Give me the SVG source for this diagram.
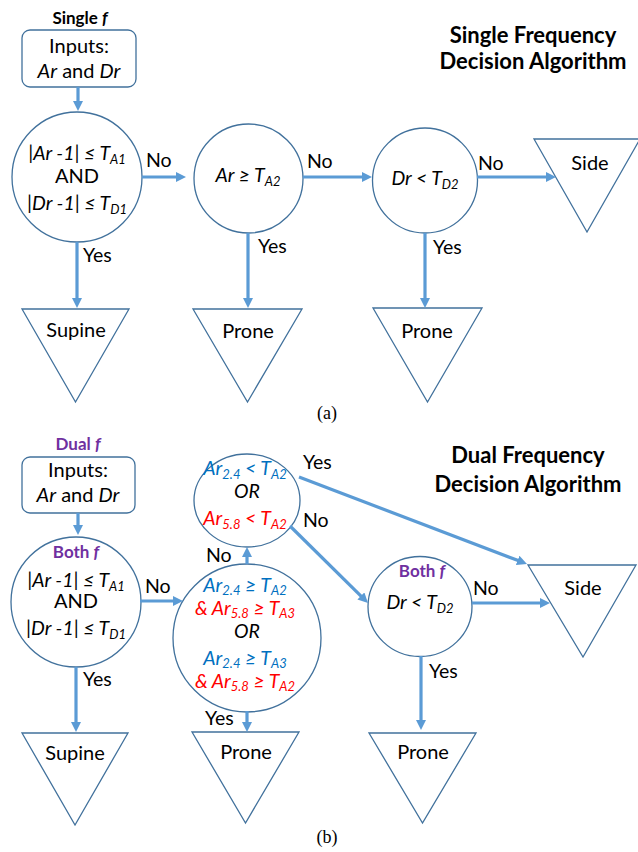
<svg xmlns="http://www.w3.org/2000/svg" width="638" height="852" viewBox="0 0 638 852">
<style>
text{font-family:Lato,"Open Sans","Liberation Sans",sans-serif;fill:#000}
.n{fill:#fff;stroke:#41719C;stroke-width:1.3}
.c{stroke:#5B9BD5;stroke-width:3.2;fill:none;marker-end:url(#ah)}
.t{font-size:20px;text-anchor:middle}
.m{font-size:19.5px;text-anchor:middle;font-style:italic}
.s{font-size:13px}
.lb{font-size:19.5px}
.ti{font-size:22px;font-weight:bold;text-anchor:middle}
.hd{font-size:17px;font-weight:bold;text-anchor:middle}
.pu{fill:#7030A0}
.bl{fill:#0070C0}
.rd{fill:#FF0000}
.cap{font-family:"Liberation Serif",serif;font-size:18px;text-anchor:middle}
</style>
<defs>
<marker id="ah" markerWidth="10" markerHeight="10" refX="2" refY="5" orient="auto" markerUnits="userSpaceOnUse"><path d="M0,0 L10,5 L0,10 z" fill="#5B9BD5"/></marker>
</defs>

<!-- ===== (a) ===== -->
<g id="a-title">
<text class="ti" x="533" y="43">Single Frequency</text>
<text class="ti" x="533" y="69">Decision Algorithm</text>
</g>
<g id="a-inputs">
<text class="hd" x="80" y="24">Single <tspan font-style="italic">f</tspan></text>
<rect class="n" x="22" y="30" width="114" height="57" rx="8"/>
<text class="t" x="79" y="53">Inputs:</text>
<text class="t" x="79" y="78"><tspan font-style="italic">Ar</tspan> and <tspan font-style="italic">Dr</tspan></text>
</g>
<g id="a-c1">
<circle class="n" cx="77" cy="177" r="65"/>
<text class="m" x="77" y="160">|Ar -1| ≤ T<tspan class="s" dy="4">A1</tspan></text>
<text class="t" x="77" y="183">AND</text>
<text class="m" x="77" y="210">|Dr -1| ≤ T<tspan class="s" dy="4">D1</tspan></text>
</g>
<g id="a-c2">
<circle class="n" cx="248.5" cy="178.5" r="54.5"/>
<text class="m" x="248" y="182">Ar ≥ T<tspan class="s" dy="4">A2</tspan></text>
</g>
<g id="a-c3">
<circle class="n" cx="425" cy="180.5" r="52.5"/>
<text class="m" x="425" y="185">Dr &lt; T<tspan class="s" dy="4">D2</tspan></text>
</g>
<g id="a-side">
<path class="n" d="M534,139 L640,139 L587,232 Z"/>
<text class="t" x="590" y="170">Side</text>
</g>
<g id="a-supine">
<path class="n" d="M22,309 L129,309 L75.5,402 Z"/>
<text class="t" x="76" y="337">Supine</text>
</g>
<g id="a-prone1">
<path class="n" d="M193,309 L302,309 L247.5,402 Z"/>
<text class="t" x="248" y="338">Prone</text>
</g>
<g id="a-prone2">
<path class="n" d="M373,308 L482,308 L427.5,402 Z"/>
<text class="t" x="427" y="338">Prone</text>
</g>
<text class="cap" x="327" y="419">(a)</text>

<!-- ===== (b) ===== -->
<g id="b-title">
<text class="ti" x="528" y="463">Dual Frequency</text>
<text class="ti" x="528" y="492">Decision Algorithm</text>
</g>
<g id="b-inputs">
<text class="hd pu" x="78" y="450">Dual <tspan font-style="italic">f</tspan></text>
<rect class="n" x="22" y="457" width="113" height="56" rx="8"/>
<text class="t" x="78" y="477">Inputs:</text>
<text class="t" x="78" y="502"><tspan font-style="italic">Ar</tspan> and <tspan font-style="italic">Dr</tspan></text>
</g>
<g id="b-c1">
<circle class="n" cx="76" cy="602" r="65"/>
<text class="hd pu" x="76" y="558" font-size="18">Both <tspan font-style="italic">f</tspan></text>
<text class="m" x="76" y="587">|Ar -1| ≤ T<tspan class="s" dy="4">A1</tspan></text>
<text class="t" x="76" y="608">AND</text>
<text class="m" x="76" y="635">|Dr -1| ≤ T<tspan class="s" dy="4">D1</tspan></text>
</g>
<g id="b-c2">
<circle class="n" cx="247" cy="638" r="74"/>
<text class="m bl" x="245" y="592">Ar<tspan class="s" dy="3">2.4</tspan><tspan dy="-3"> ≥ T</tspan><tspan class="s" dy="3">A2</tspan></text>
<text class="m rd" x="245" y="615">&amp; Ar<tspan class="s" dy="3">5.8</tspan><tspan dy="-3"> ≥ T</tspan><tspan class="s" dy="3">A3</tspan></text>
<text class="m" x="247" y="638">OR</text>
<text class="m bl" x="245" y="665">Ar<tspan class="s" dy="3">2.4</tspan><tspan dy="-3"> ≥ T</tspan><tspan class="s" dy="3">A3</tspan></text>
<text class="m rd" x="245" y="688">&amp; Ar<tspan class="s" dy="3">5.8</tspan><tspan dy="-3"> ≥ T</tspan><tspan class="s" dy="3">A2</tspan></text>
</g>
<g id="b-c3">
<ellipse class="n" cx="247" cy="500.5" rx="53" ry="46.5"/>
<text class="m bl" x="245" y="475">Ar<tspan class="s" dy="4">2.4</tspan><tspan dy="-4"> &lt; T</tspan><tspan class="s" dy="4">A2</tspan></text>
<text class="m" x="247" y="498">OR</text>
<text class="m rd" x="245" y="525">Ar<tspan class="s" dy="4">5.8</tspan><tspan dy="-4"> &lt; T</tspan><tspan class="s" dy="4">A2</tspan></text>
</g>
<g id="b-c4">
<ellipse class="n" cx="420" cy="606.5" rx="52" ry="50"/>
<text class="hd pu" x="422" y="577" font-size="18">Both <tspan font-style="italic">f</tspan></text>
<text class="m" x="420" y="609">Dr &lt; T<tspan class="s" dy="4">D2</tspan></text>
</g>
<g id="b-side">
<path class="n" d="M528,565 L636,565 L583,657 Z"/>
<text class="t" x="583" y="595">Side</text>
</g>
<g id="b-supine">
<path class="n" d="M22,733 L128,733 L75,825 Z"/>
<text class="t" x="75" y="760">Supine</text>
</g>
<g id="b-prone1">
<path class="n" d="M192,732 L299,732 L245.5,823 Z"/>
<text class="t" x="246" y="759">Prone</text>
</g>
<g id="b-prone2">
<path class="n" d="M369,733 L476,733 L422.5,823 Z"/>
<text class="t" x="423" y="759">Prone</text>
</g>
<text class="cap" x="327" y="843">(b)</text>

<!-- ===== connectors ===== -->
<g id="connectors">
<line class="c" x1="78" y1="87" x2="78" y2="103"/>
<line class="c" x1="142" y1="177" x2="178" y2="177"/>
<line class="c" x1="303" y1="177" x2="364" y2="177"/>
<line class="c" x1="477" y1="177" x2="548" y2="177"/>
<line class="c" x1="77" y1="242" x2="77" y2="300"/>
<line class="c" x1="248" y1="233" x2="248" y2="300"/>
<line class="c" x1="425" y1="233" x2="425" y2="300"/>

<line class="c" x1="78" y1="513" x2="78" y2="527"/>
<line class="c" x1="140" y1="601" x2="175" y2="601"/>
<line class="c" x1="247" y1="564" x2="247" y2="555"/>
<line class="c" x1="299" y1="477" x2="519.5" y2="561.1"/>
<line class="c" x1="290" y1="526" x2="362.3" y2="597.4"/>
<line class="c" x1="472" y1="603" x2="542" y2="603"/>
<line class="c" x1="76" y1="667" x2="76" y2="724"/>
<line class="c" x1="247" y1="711" x2="247" y2="724"/>
<line class="c" x1="421" y1="656" x2="421" y2="722"/>

<text class="lb" x="146" y="167">No</text>
<text class="lb" x="307" y="168">No</text>
<text class="lb" x="478" y="170">No</text>
<text class="lb" x="83" y="262">Yes</text>
<text class="lb" x="258" y="253">Yes</text>
<text class="lb" x="433" y="254">Yes</text>

<text class="lb" x="145" y="593">No</text>
<text class="lb" x="206" y="562">No</text>
<text class="lb" x="303" y="469">Yes</text>
<text class="lb" x="303" y="527">No</text>
<text class="lb" x="473" y="595">No</text>
<text class="lb" x="83" y="686">Yes</text>
<text class="lb" x="205" y="725">Yes</text>
<text class="lb" x="429" y="678">Yes</text>
</g>
</svg>
